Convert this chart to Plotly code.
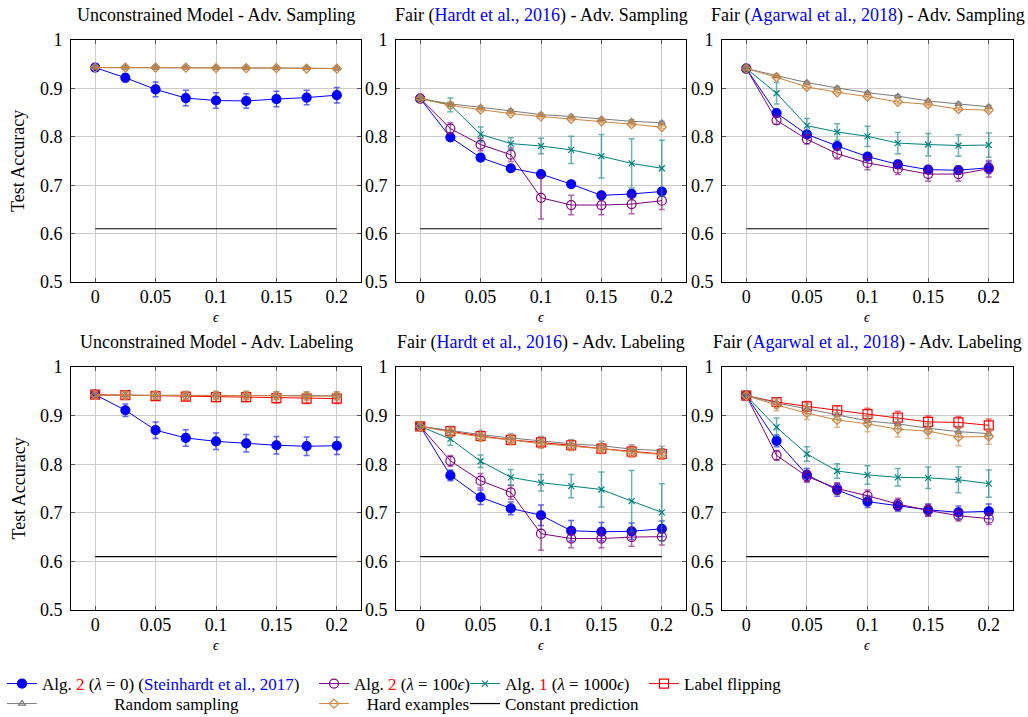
import plotly.graph_objects as go

EPS = [0, 0.025, 0.05, 0.075, 0.1, 0.125, 0.15, 0.175, 0.2]
CONST_PRED = [0.61] * 9

# ---- Panel 1: Unconstrained - Adv. Sampling
p1_blue = [0.943, 0.922, 0.898, 0.880, 0.875, 0.874, 0.878, 0.881, 0.886]
p1_blue_err = [0.007, 0.009, 0.015, 0.016, 0.016, 0.015, 0.016, 0.015, 0.016]
p1_gray = [0.943, 0.943, 0.943, 0.943, 0.942, 0.942, 0.942, 0.942, 0.941]
p1_gray_err = [0.002] * 9
p1_orange = [0.943, 0.943, 0.943, 0.943, 0.942, 0.942, 0.942, 0.941, 0.941]
p1_orange_err = [0.002] * 9

# ---- Panel 2: Hardt - Adv. Sampling
p2_blue = [0.879, 0.799, 0.757, 0.735, 0.723, 0.702, 0.679, 0.682, 0.687]
p2_blue_err = [0.004] * 9
p2_purple = [0.879, 0.817, 0.784, 0.763, 0.674, 0.659, 0.659, 0.661, 0.668]
p2_purple_err = [0.006, 0.012, 0.013, 0.014, 0.044, 0.020, 0.020, 0.020, 0.018]
p2_teal = [0.879, 0.866, 0.805, 0.786, 0.781, 0.773, 0.760, 0.745, 0.735]
p2_teal_err = [0.007, 0.014, 0.015, 0.012, 0.016, 0.028, 0.045, 0.051, 0.058]
p2_gray = [0.879, 0.868, 0.861, 0.854, 0.846, 0.842, 0.837, 0.832, 0.829]
p2_gray_err = [0.003] * 9
p2_orange = [0.879, 0.865, 0.856, 0.848, 0.842, 0.837, 0.832, 0.826, 0.820]
p2_orange_err = [0.003] * 9

# ---- Panel 3: Agarwal - Adv. Sampling
p3_blue = [0.941, 0.849, 0.805, 0.781, 0.759, 0.743, 0.732, 0.731, 0.736]
p3_blue_err = [0.006, 0.005, 0.006, 0.005, 0.005, 0.008, 0.007, 0.008, 0.012]
p3_purple = [0.941, 0.834, 0.795, 0.765, 0.746, 0.734, 0.723, 0.723, 0.734]
p3_purple_err = [0.006, 0.008, 0.010, 0.011, 0.014, 0.012, 0.015, 0.015, 0.017]
p3_teal = [0.941, 0.890, 0.823, 0.810, 0.801, 0.787, 0.784, 0.782, 0.783]
p3_teal_err = [0.008, 0.022, 0.015, 0.017, 0.021, 0.022, 0.023, 0.022, 0.025]
p3_gray = [0.941, 0.926, 0.912, 0.901, 0.891, 0.884, 0.874, 0.868, 0.862]
p3_gray_err = [0.003] * 9
p3_orange = [0.941, 0.923, 0.903, 0.892, 0.883, 0.872, 0.867, 0.857, 0.855]
p3_orange_err = [0.003] * 9

# ---- Panel 4: Unconstrained - Adv. Labeling
p4_blue = [0.943, 0.911, 0.870, 0.854, 0.847, 0.843, 0.839, 0.837, 0.838]
p4_blue_err = [0.005, 0.013, 0.017, 0.017, 0.017, 0.018, 0.018, 0.019, 0.018]
p4_red = [0.943, 0.942, 0.940, 0.939, 0.938, 0.938, 0.936, 0.935, 0.935]
p4_red_err = [0.006, 0.007, 0.008, 0.008, 0.009, 0.009, 0.010, 0.010, 0.010]
p4_gray = [0.942, 0.942, 0.942, 0.942, 0.942, 0.942, 0.941, 0.941, 0.941]
p4_gray_err = [0.008] * 9
p4_orange = [0.942, 0.942, 0.942, 0.941, 0.941, 0.941, 0.941, 0.940, 0.940]
p4_orange_err = [0.008] * 9

# ---- Panel 5: Hardt - Adv. Labeling
p5_blue = [0.878, 0.777, 0.732, 0.709, 0.695, 0.663, 0.661, 0.662, 0.667]
p5_blue_err = [0.006, 0.011, 0.015, 0.013, 0.021, 0.021, 0.019, 0.017, 0.016]
p5_purple = [0.878, 0.807, 0.766, 0.742, 0.657, 0.647, 0.647, 0.650, 0.651]
p5_purple_err = [0.006, 0.011, 0.015, 0.014, 0.034, 0.019, 0.019, 0.019, 0.017]
p5_teal = [0.878, 0.852, 0.806, 0.773, 0.762, 0.755, 0.748, 0.724, 0.701]
p5_teal_err = [0.007, 0.013, 0.013, 0.016, 0.017, 0.024, 0.036, 0.063, 0.059]
p5_red = [0.878, 0.868, 0.858, 0.850, 0.845, 0.839, 0.832, 0.826, 0.821]
p5_red_err = [0.008, 0.009, 0.009, 0.010, 0.010, 0.010, 0.010, 0.011, 0.011]
p5_gray = [0.878, 0.869, 0.861, 0.854, 0.848, 0.842, 0.838, 0.831, 0.828]
p5_gray_err = [0.009] * 9
p5_orange = [0.878, 0.866, 0.856, 0.850, 0.842, 0.837, 0.832, 0.825, 0.820]
p5_orange_err = [0.009] * 9

# ---- Panel 6: Agarwal - Adv. Labeling
p6_blue = [0.941, 0.848, 0.778, 0.747, 0.723, 0.714, 0.706, 0.701, 0.703]
p6_blue_err = [0.006, 0.012, 0.013, 0.013, 0.012, 0.011, 0.012, 0.013, 0.015]
p6_purple = [0.941, 0.818, 0.775, 0.750, 0.735, 0.718, 0.705, 0.694, 0.688]
p6_purple_err = [0.006, 0.010, 0.012, 0.012, 0.012, 0.012, 0.012, 0.011, 0.012]
p6_teal = [0.941, 0.876, 0.821, 0.786, 0.778, 0.773, 0.772, 0.768, 0.760]
p6_teal_err = [0.007, 0.019, 0.015, 0.015, 0.019, 0.018, 0.022, 0.027, 0.028]
p6_red = [0.941, 0.928, 0.919, 0.911, 0.903, 0.896, 0.887, 0.886, 0.880]
p6_red_err = [0.006, 0.008, 0.010, 0.009, 0.012, 0.013, 0.012, 0.012, 0.013]
p6_gray = [0.941, 0.926, 0.914, 0.902, 0.889, 0.883, 0.874, 0.867, 0.863]
p6_gray_err = [0.010] * 9
p6_orange = [0.941, 0.922, 0.905, 0.891, 0.883, 0.872, 0.868, 0.856, 0.857]
p6_orange_err = [0.006, 0.012, 0.013, 0.015, 0.016, 0.016, 0.015, 0.018, 0.016]

X_TICKS = [0, 0.05, 0.1, 0.15, 0.2]
X_TICK_TEXT = ["0", "0.05", "0.1", "0.15", "0.2"]
Y_TICKS = [0.5, 0.6, 0.7, 0.8, 0.9, 1.0]
Y_TICK_TEXT = ["0.5", "0.6", "0.7", "0.8", "0.9", "1"]

TITLES = [
    "Unconstrained Model - Adv. Sampling",
    'Fair (<span style="color:#0000ff">Hardt et al., 2016</span>) - Adv. Sampling',
    'Fair (<span style="color:#0000ff">Agarwal et al., 2018</span>) - Adv. Sampling',
    "Unconstrained Model - Adv. Labeling",
    'Fair (<span style="color:#0000ff">Hardt et al., 2016</span>) - Adv. Labeling',
    'Fair (<span style="color:#0000ff">Agarwal et al., 2018</span>) - Adv. Labeling',
]

NB = "\u00a0"
STYLES = {
    "blue": dict(color="#0000ff", err="rgba(0,0,255,0.6)", symbol="circle", size=9,
                 name='Alg. <span style="color:#ff0000">2</span> (<i>λ</i> = 0) (<span style="color:#0000ff">Steinhardt et al., 2017</span>)'),
    "purple": dict(color="#800080", err="rgba(128,0,128,0.6)", symbol="circle-open", size=9,
                   name='Alg. <span style="color:#ff0000">2</span> (<i>λ</i> = 100<i>ϵ</i>)'),
    "teal": dict(color="#008080", err="rgba(0,128,128,0.6)", symbol="x-thin-open", size=6,
                 name='Alg. <span style="color:#ff0000">1</span> (<i>λ</i> = 1000<i>ϵ</i>)'),
    "red": dict(color="#ff0000", err="rgba(255,0,0,0.6)", symbol="square-open", size=9,
                name="Label flipping"),
    "gray": dict(color="#7a7a7a", err="rgba(122,122,122,0.6)", symbol="triangle-up-open", size=6,
                 name=NB * 17 + "Random sampling"),
    "orange": dict(color="#cd853f", err="rgba(205,133,63,0.6)", symbol="diamond-open", size=7,
                   name=NB * 3 + "Hard examples"),
}
ORDER = ["blue", "purple", "teal", "red", "gray", "orange"]
LEGEND_POS = {  # (x px, y px) of legend box
    "blue": (2, 684), "purple": (314, 684), "teal": (465, 684), "red": (644, 684),
    "gray": (2, 704), "orange": (314, 704), "const": (465, 704),
}
LEGEND_IDS = {"blue": "legend", "purple": "legend2", "teal": "legend3", "red": "legend4",
              "gray": "legend5", "orange": "legend6", "const": "legend7"}

panels = [
    {"blue": (p1_blue, p1_blue_err), "gray": (p1_gray, p1_gray_err), "orange": (p1_orange, p1_orange_err)},
    {"blue": (p2_blue, p2_blue_err), "purple": (p2_purple, p2_purple_err), "teal": (p2_teal, p2_teal_err),
     "gray": (p2_gray, p2_gray_err), "orange": (p2_orange, p2_orange_err)},
    {"blue": (p3_blue, p3_blue_err), "purple": (p3_purple, p3_purple_err), "teal": (p3_teal, p3_teal_err),
     "gray": (p3_gray, p3_gray_err), "orange": (p3_orange, p3_orange_err)},
    {"blue": (p4_blue, p4_blue_err), "red": (p4_red, p4_red_err),
     "gray": (p4_gray, p4_gray_err), "orange": (p4_orange, p4_orange_err)},
    {"blue": (p5_blue, p5_blue_err), "purple": (p5_purple, p5_purple_err), "teal": (p5_teal, p5_teal_err),
     "red": (p5_red, p5_red_err), "gray": (p5_gray, p5_gray_err), "orange": (p5_orange, p5_orange_err)},
    {"blue": (p6_blue, p6_blue_err), "purple": (p6_purple, p6_purple_err), "teal": (p6_teal, p6_teal_err),
     "red": (p6_red, p6_red_err), "gray": (p6_gray, p6_gray_err), "orange": (p6_orange, p6_orange_err)},
]

W, H = 1028, 717
FONT = "Liberation Serif"
X_DOM_PX = [(71, 361), (396, 686), (722, 1013)]
Y_DOM_PX = [(40, 282), (367, 610)]

fig = go.Figure()
LEGEND_PANEL = 4

for i, pdata in enumerate(panels):
    ax = "" if i == 0 else str(i + 1)
    for key in ORDER:
        if key not in pdata:
            continue
        vals, errs = pdata[key]
        st = STYLES[key]
        show = (i == LEGEND_PANEL)
        fig.add_trace(go.Scatter(
            x=EPS, y=vals, mode="lines+markers", name=st["name"],
            xaxis="x" + ax, yaxis="y" + ax,
            line=dict(color=st["color"], width=1),
            marker=dict(symbol=st["symbol"], size=st["size"], color=st["color"],
                        line=dict(color=st["color"], width=1.2)),
            error_y=dict(type="data", array=errs, visible=True, color=st["err"],
                         thickness=1.5, width=3),
            showlegend=show, legend=LEGEND_IDS[key],
        ))
    fig.add_trace(go.Scatter(
        x=EPS, y=CONST_PRED, mode="lines", name="Constant prediction",
        xaxis="x" + ax, yaxis="y" + ax, line=dict(color="black", width=1.2),
        showlegend=(i == LEGEND_PANEL), legend="legend7",
    ))

layout = dict(
    width=W, height=H, margin=dict(l=0, r=0, t=0, b=0, pad=0, autoexpand=False),
    paper_bgcolor="white", plot_bgcolor="white",
    font=dict(family=FONT, size=18, color="black"),
    annotations=[],
)

for i in range(6):
    r, c = divmod(i, 3)
    ax = "" if i == 0 else str(i + 1)
    x0, x1 = X_DOM_PX[c]
    y0, y1 = Y_DOM_PX[r]
    layout["xaxis" + ax] = dict(
        domain=[x0 / W, x1 / W], anchor="y" + ax, range=[-0.02, 0.22], automargin=False,
        tickvals=X_TICKS, ticktext=X_TICK_TEXT, showgrid=True, gridcolor="#cccccc",
        gridwidth=1, showline=True, linecolor="black", linewidth=1, mirror="ticks",
        ticks="inside", ticklen=4, tickcolor="#555555", zeroline=False,
        tickfont=dict(size=18, family=FONT), ticklabelstandoff=-2,
    )
    layout["yaxis" + ax] = dict(
        domain=[1 - y1 / H, 1 - y0 / H], anchor="x" + ax, range=[0.5, 1.0], automargin=False,
        tickvals=Y_TICKS, ticktext=Y_TICK_TEXT, showgrid=True, gridcolor="#cccccc",
        gridwidth=1, showline=True, linecolor="black", linewidth=1, mirror="ticks",
        ticks="inside", ticklen=4, tickcolor="#555555", zeroline=False,
        tickfont=dict(size=18, family=FONT), ticklabelstandoff=4,
    )
    cx = (x0 + x1) / 2 / W
    layout["annotations"].append(dict(
        text=TITLES[i], x=cx, y=1 - (y0 - 25) / H, xref="paper", yref="paper",
        showarrow=False, font=dict(size=18, family=FONT), xanchor="center", yanchor="middle"))
    layout["annotations"].append(dict(
        text="<i>ϵ</i>", x=cx, y=1 - (y1 + 35) / H, xref="paper", yref="paper",
        showarrow=False, font=dict(size=14, family=FONT), xanchor="center", yanchor="middle"))
    if c == 0:
        layout["annotations"].append(dict(
            text="Test Accuracy", x=18 / W, y=1 - (y0 + y1) / 2 / H, xref="paper", yref="paper",
            textangle=-90, showarrow=False, font=dict(size=18, family=FONT),
            xanchor="center", yanchor="middle"))

for key, lid in LEGEND_IDS.items():
    px, py = LEGEND_POS[key]
    layout[lid] = dict(
        x=px / W, y=1 - py / H, xanchor="left", yanchor="middle", orientation="h",
        bgcolor="rgba(0,0,0,0)", borderwidth=0, font=dict(size=17, family=FONT),
        itemwidth=30, tracegroupgap=0,
    )

fig.update_layout(**layout)
fig.write_html("out.html")
